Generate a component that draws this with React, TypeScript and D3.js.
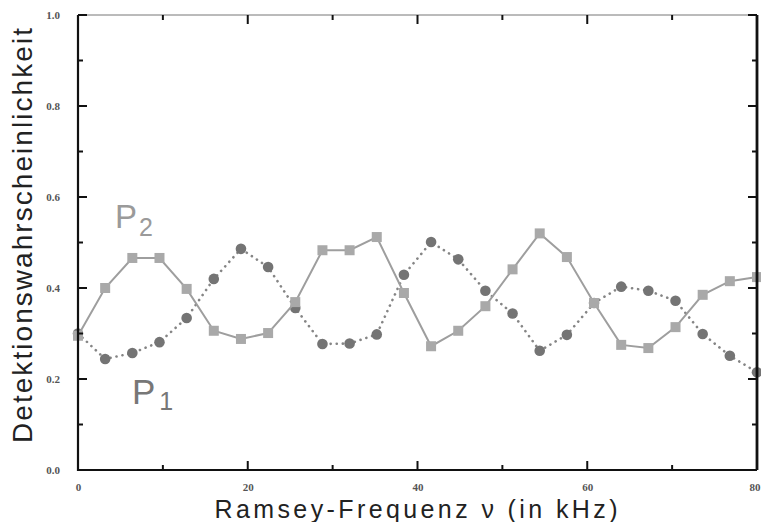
import React, { useEffect, useRef } from "react";
import * as d3 from "d3";

// Ramsey-Frequenz in kHz
const freq = [
  0, 3.2, 6.4, 9.6, 12.8, 16, 19.2, 22.4, 25.6, 28.8, 32, 35.2, 38.4, 41.6,
  44.8, 48, 51.2, 54.4, 57.6, 60.8, 64, 67.2, 70.4, 73.6, 76.8, 80,
];
const p2 = [
  0.295, 0.4, 0.466, 0.466, 0.398, 0.306, 0.288, 0.301, 0.369, 0.483, 0.483,
  0.512, 0.389, 0.272, 0.306, 0.36, 0.441, 0.52, 0.468, 0.367, 0.275, 0.268,
  0.314, 0.385, 0.415, 0.424,
];
const p1 = [
  0.3, 0.244, 0.257, 0.281, 0.334, 0.42, 0.486, 0.446, 0.356, 0.277, 0.278,
  0.298, 0.429, 0.501, 0.463, 0.394, 0.344, 0.262, 0.297, 0.367, 0.403, 0.394,
  0.372, 0.299, 0.251, 0.215,
];
const xMajor = [0, 20, 40, 60, 80];
const xMinor = [10, 30, 50, 70];
const yMajor = [0, 0.2, 0.4, 0.6, 0.8, 1.0];
const yMinor = [0.1, 0.3, 0.5, 0.7, 0.9];

const W = 761;
const H = 522;
const margin = { top: 15, right: 4, bottom: 52, left: 78 };

export default function App() {
  const left = useRef<SVGGElement>(null);
  const bottom = useRef<SVGGElement>(null);

  const x = d3.scaleLinear().domain([0, 80]).range([margin.left, W - margin.right]);
  const y = d3.scaleLinear().domain([0, 1]).range([H - margin.bottom, margin.top]);

  useEffect(() => {
    const fmt = d3.format(".1f");
    const labels = (g: any) => {
      g.select(".domain").remove();
      g.selectAll(".tick line").remove();
      g.selectAll(".tick text")
        .attr("fill", "#555")
        .attr("font-family", "'Liberation Serif', serif")
        .attr("font-size", 11)
        .attr("font-weight", "bold");
    };
    const gl = d3.select(left.current);
    gl.selectAll("*").remove();
    gl.call(d3.axisLeft(y).tickValues(yMajor).tickSize(0).tickPadding(18).tickFormat((d: any) => fmt(d)));
    labels(gl);

    const gb = d3.select(bottom.current);
    gb.selectAll("*").remove();
    gb.call(d3.axisBottom(x).tickValues(xMajor).tickSize(0).tickPadding(13).tickFormat(d3.format("d")));
    labels(gb);
    // last label sits at the right edge of the page; keep it inside
    gb.selectAll(".tick text")
      .filter((d: any) => d === 80)
      .attr("text-anchor", "end")
      .attr("x", W - 1 - x(80));
  }, []);

  const line = d3
    .line<number>()
    .x((_, i) => x(freq[i]))
    .y((d) => y(d));

  const sq = 10;
  const x0 = x(0);
  const x1 = x(80);
  const y0 = y(0);
  const y1 = y(1);

  return (
    <svg
      width={W}
      height={H}
      style={{ position: "absolute", left: 0, top: 0, background: "#fff" }}
    >
      <rect width={W} height={H} fill="#fff" />

      {/* P1: dotted line with circles */}
      <path d={line(p1) || ""} fill="none" stroke="#858585" strokeWidth={2.6} strokeDasharray="0.1,6" strokeLinecap="round" />
      {p1.map((d, i) => (
        <circle key={"c" + i} cx={x(freq[i])} cy={y(d)} r={5.3} fill="#747474" />
      ))}

      {/* P2: solid line with squares */}
      <path d={line(p2) || ""} fill="none" stroke="#9e9e9e" strokeWidth={2} />
      {p2.map((d, i) => (
        <rect key={"s" + i} x={x(freq[i]) - sq / 2} y={y(d) - sq / 2} width={sq} height={sq} fill="#a9a9a9" />
      ))}

      {/* frame */}
      <line x1={x0} x2={x1} y1={y1} y2={y1} stroke="#777" strokeWidth={1} />
      <line x1={x1} x2={x1} y1={y1} y2={y0} stroke="#111" strokeWidth={2.8} />
      <line x1={x0} x2={x0} y1={y1} y2={y0 + 1} stroke="#111" strokeWidth={2.2} />
      <line x1={x0 - 1} x2={x1} y1={y0} y2={y0} stroke="#111" strokeWidth={2.2} />

      {/* ticks pointing inward on all four sides */}
      <g stroke="#111" strokeWidth={2}>
        {xMajor.concat(xMinor).map((v) => {
          const len = xMajor.includes(v) ? 9 : 5;
          const px = x(v);
          return (
            <g key={"xt" + v}>
              <line x1={px} x2={px} y1={y0} y2={y0 - len} />
              <line x1={px} x2={px} y1={y1} y2={y1 + len} />
            </g>
          );
        })}
        {yMajor.concat(yMinor).map((v) => {
          const len = yMajor.includes(v) ? 9 : 5;
          const py = y(v);
          return (
            <g key={"yt" + v}>
              <line x1={x0} x2={x0 + len} y1={py} y2={py} />
              <line x1={x1} x2={x1 - len} y1={py} y2={py} />
            </g>
          );
        })}
      </g>

      <g ref={left} transform={`translate(${margin.left},0)`} />
      <g ref={bottom} transform={`translate(0,${H - margin.bottom})`} />

      <text x={115} y={228} fontFamily="'Liberation Sans', Arial, sans-serif" fontSize={33} fill="#9a9a9a">
        P<tspan dx={2} dy={8} fontSize={25}>2</tspan>
      </text>
      <text x={132} y={404} fontFamily="'Liberation Sans', Arial, sans-serif" fontSize={35} fill="#777">
        P<tspan dx={4} dy={6} fontSize={25}>1</tspan>
      </text>

      <text
        transform="translate(32,235.5) rotate(-90)"
        textAnchor="middle"
        fontFamily="'Liberation Sans', Arial, sans-serif"
        fontSize={28}
        fill="#222"
        textLength={415}
        lengthAdjust="spacing"
      >
        Detektionswahrscheinlichkeit
      </text>
      <text
        x={416}
        y={518}
        textAnchor="middle"
        fontFamily="'Liberation Sans', Arial, sans-serif"
        fontSize={25}
        fill="#222"
        textLength={403}
        lengthAdjust="spacing"
      >
        Ramsey-Frequenz ν (in kHz)
      </text>
    </svg>
  );
}
